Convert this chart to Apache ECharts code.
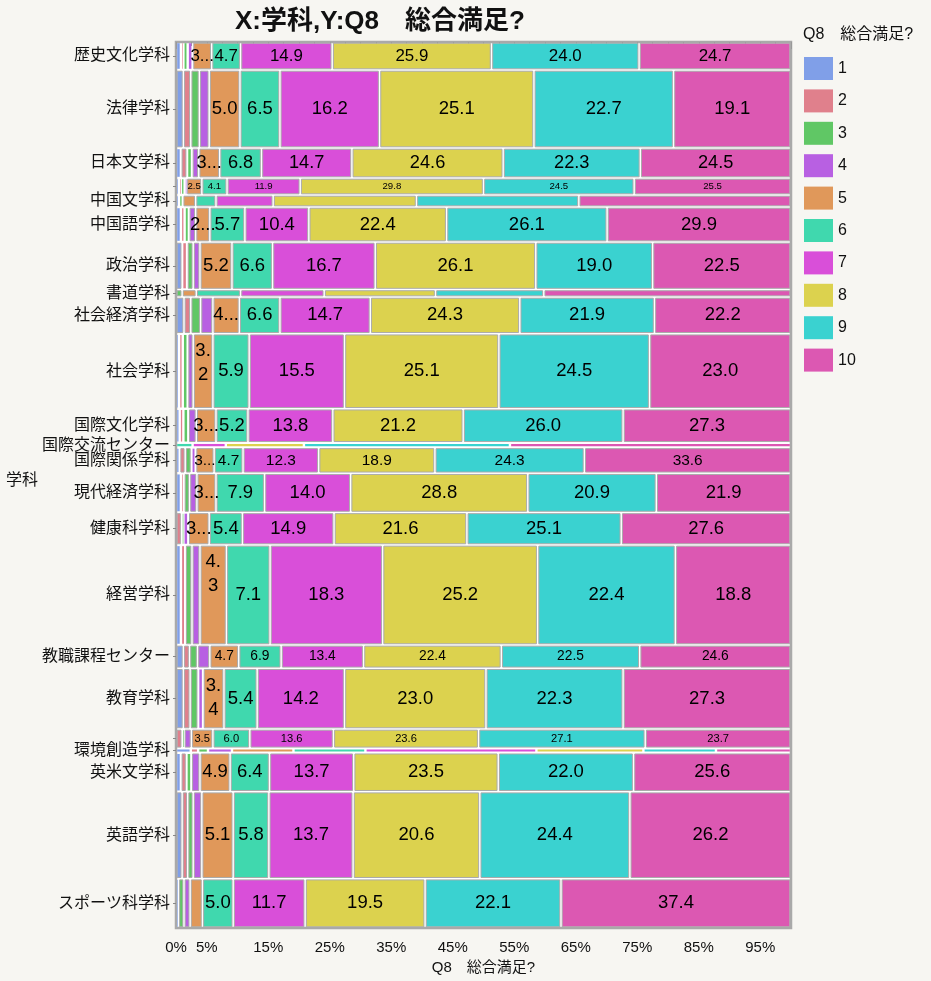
<!DOCTYPE html>
<html>
<head>
<meta charset="utf-8">
<script src="https://cdn.jsdelivr.net/npm/echarts@6/dist/echarts.min.js"></script>
<style>
html,body{margin:0;padding:0;background:#f7f6f2;}
#chart{width:931px;height:981px;}
</style>
</head>
<body>
<div id="chart"></div>
<script>
// Row categories (top to bottom). Empty names: rows whose labels are hidden in the reference.
const categories = ['歴史文化学科','法律学科','日本文学科','','中国文学科','中国語学科','政治学科','書道学科','社会経済学科','社会学科','国際文化学科','国際交流センター','国際関係学科','現代経済学科','健康科学科','経営学科','教職課程センター','教育学科','','環境創造学科','英米文学科','英語学科','スポーツ科学科'];
// Relative row sizes (respondent share, read from row heights)
const rowSizes = [28, 78, 30, 17, 12, 35, 47.5, 7.5, 36.7, 75, 34, 4.7, 25.8, 39.2, 32.5, 100, 23.3, 60.7, 19.3, 4.5, 38.9, 87, 49.3];
const levels = ['1','2','3','4','5','6','7','8','9','10'];
// Percent per level for each row
const q1  = [0.8,1.2,0.8,0.5,0.5,0.8,1.0,0.0,1.3,0.5,0.6,0.0,0.6,0.8,0.0,0.8,1.2,1.2,0.0,2.4,0.8,1.0,0.4];
const q2  = [0.4,1.2,1.0,0.3,0.0,0.6,0.8,0.0,1.1,0.6,0.6,0.0,0.9,0.5,0.9,0.7,1.0,1.1,1.0,1.2,0.9,0.9,0.0];
const q3  = [0.7,1.4,0.8,0.6,0.6,0.7,1.0,1.0,1.6,0.8,0.8,0.0,1.0,0.9,0.3,1.1,1.3,1.3,0.3,1.6,0.8,0.9,0.9];
const q4  = [0.8,1.6,1.1,0.3,0.0,1.1,1.1,0.0,2.0,0.9,1.3,0.0,0.7,1.2,0.8,1.3,2.0,0.8,1.2,3.9,1.4,1.4,1.0];
const q5  = [3.1,5.0,3.4,2.5,2.1,2.3,5.2,2.3,4.3,3.2,3.2,0.0,3.0,3.1,3.4,4.3,4.7,3.4,3.5,10.0,4.9,5.1,2.0];
const q6  = [4.7,6.5,6.8,4.1,3.3,5.7,6.6,7.2,6.6,5.9,5.2,2.7,4.7,7.9,5.4,7.1,6.9,5.4,6.0,11.7,6.4,5.8,5.0];
const q7  = [14.9,16.2,14.7,11.9,9.3,10.4,16.7,13.6,14.7,15.5,13.8,5.4,12.3,14.0,14.9,18.3,13.4,14.2,13.6,27.8,13.7,13.7,11.7];
const q8  = [25.9,25.1,24.6,29.8,23.3,22.4,26.1,18.1,24.3,25.1,21.2,12.7,18.9,28.8,21.6,25.2,22.4,23.0,23.6,17.4,23.5,20.6,19.5];
const q9  = [24.0,22.7,22.3,24.5,26.4,26.1,19.0,17.6,21.9,24.5,26.0,33.5,24.3,20.9,25.1,22.4,22.5,22.3,27.1,11.8,22.0,24.4,22.1];
const q10 = [24.7,19.1,24.5,25.5,34.5,29.9,22.5,40.2,22.2,23.0,27.3,45.7,33.6,21.9,27.6,18.8,24.6,27.3,23.7,12.2,25.6,26.2,37.4];
const xLabelValues = [0,5,15,25,35,45,55,65,75,85,95];

const colors = ['#809fe8','#e0808c','#60c765','#b860e2','#e0985a','#40d8ae','#d94fd9','#dcd24e','#3ad2d0','#dc58b2'];
const shares = [q1,q2,q3,q4,q5,q6,q7,q8,q9,q10];

// cumulative positions
const total = rowSizes.reduce((a,b)=>a+b,0);
const yStart = [], yEnd = [];
let acc = 0;
rowSizes.forEach(s => { yStart.push(acc); acc += s; yEnd.push(acc); });
const rowCenters = yStart.map((s,i)=> (s + yEnd[i]) / 2);
const labelMap = {};
rowCenters.forEach((c,i)=>{ labelMap[c.toFixed(4)] = categories[i]; });

const FONT = "'Liberation Sans', 'Noto Sans CJK JP', sans-serif";

function textW(s, fs){ let w=0; for (const ch of s) w += (ch === '.') ? 0.278 : 0.556; return w*fs; }

function makeRender(k){
  return function(params, api){
    const x0 = api.value(0), x1 = api.value(1), y0 = api.value(2), y1 = api.value(3), v = api.value(4);
    if (!(v > 0)) return;
    const p0 = api.coord([x0, y0]), p1 = api.coord([x1, y1]);
    const ins = 1.2;
    const left = Math.min(p0[0], p1[0]) + ins, right = Math.max(p0[0], p1[0]) - ins;
    const top = Math.min(p0[1], p1[1]) + ins, bottom = Math.max(p0[1], p1[1]) - ins;
    const w = Math.max(0.6, right - left), h = Math.max(0.6, bottom - top);
    const children = [{
      type: 'rect',
      shape: { x: left, y: top, width: w, height: h },
      style: { fill: colors[k], stroke: (w > 3 && h > 5) ? '#ababab' : null, lineWidth: 1 }
    }];
    const fs = Math.min(18.5, h * 0.66);
    if (h >= 12 && fs >= 7.5) {
      const s = v.toFixed(1);
      const tw = textW(s, fs);
      const cx = left + w / 2, cy = top + h / 2;
      const base = { fontSize: fs, fontFamily: FONT, fill: '#000', align: 'center', verticalAlign: 'middle' };
      if (tw <= w + 1.5) {
        children.push({ type: 'text', z2: 10, style: Object.assign({ text: s, x: cx, y: cy }, base) });
      } else if (w >= 11) {
        if (h >= 2 * fs * 1.3 + 4) {
          const lh = fs * 1.3;
          children.push({ type: 'text', z2: 10, style: Object.assign({ text: s.slice(0, 2), x: cx, y: top + 4 + lh / 2 }, base) });
          children.push({ type: 'text', z2: 10, style: Object.assign({ text: s.slice(2), x: cx, y: top + 4 + lh * 1.5 }, base) });
        } else {
          children.push({ type: 'text', z2: 10, style: Object.assign({ text: s[0] + '...', x: cx, y: cy }, base) });
        }
      }
    }
    return { type: 'group', children };
  };
}

const series = levels.map((name, k) => {
  const data = categories.map((c, i) => {
    let start = 0;
    for (let j = 0; j < k; j++) start += shares[j][i];
    return [start, start + shares[k][i], yStart[i], yEnd[i], shares[k][i]];
  });
  return {
    type: 'custom',
    name: name,
    color: colors[k],
    itemStyle: { color: colors[k] },
    renderItem: makeRender(k),
    encode: { x: [0, 1], y: [2, 3] },
    data: data,
    clip: false
  };
});

const chart = echarts.init(document.getElementById('chart'), null, { renderer: 'canvas' });
chart.setOption({
  backgroundColor: '#f7f6f2',
  animation: false,
  title: [
    { text: 'X:学科,Y:Q8　総合満足?', left: 230, top: 4, textStyle: { fontSize: 26, fontWeight: 'bold', color: '#111', fontFamily: FONT } },
    { text: 'Q8　総合満足?', left: 798, top: 22, textStyle: { fontSize: 16, fontWeight: 'normal', color: '#111', fontFamily: FONT } }
  ],
  legend: {
    orient: 'vertical', left: 799, top: 52,
    icon: 'rect', itemWidth: 29, itemHeight: 23, itemGap: 9.4,
    data: levels,
    textStyle: { fontSize: 16, color: '#111', fontFamily: FONT },
    selectedMode: false
  },
  grid: { left: 176, right: 140, top: 42, bottom: 53, show: true, backgroundColor: '#ffffff', borderColor: '#a9a9a9', borderWidth: 2.5 },
  xAxis: {
    type: 'value', min: 0, max: 100, interval: 5,
    name: 'Q8　総合満足?', nameLocation: 'middle', nameGap: 32,
    nameTextStyle: { fontSize: 15, color: '#111', fontFamily: FONT },
    axisLine: { show: false },
    axisTick: { show: true, length: 7, lineStyle: { color: '#999' } },
    minorTick: { show: true, splitNumber: 2, length: 4, lineStyle: { color: '#999' } },
    splitLine: { show: false },
    axisLabel: { customValues: xLabelValues, formatter: v => v + '%', fontSize: 15, color: '#111', margin: 12, fontFamily: FONT }
  },
  yAxis: {
    type: 'value', min: 0, max: total, inverse: true,
    axisLine: { show: false },
    splitLine: { show: false },
    axisTick: { show: true, customValues: rowCenters, length: 3, lineStyle: { color: '#888' } },
    axisLabel: {
      customValues: rowCenters.filter((c, i) => categories[i] !== ''),
      formatter: v => labelMap[Number(v).toFixed(4)] || '',
      fontSize: 16, color: '#111', margin: 6, fontFamily: FONT
    }
  },
  graphic: [
    { type: 'text', left: 6, top: 473, style: { text: '学科', fontSize: 16, fill: '#111', fontFamily: FONT } }
  ],
  series: series
});
</script>
</body>
</html>
